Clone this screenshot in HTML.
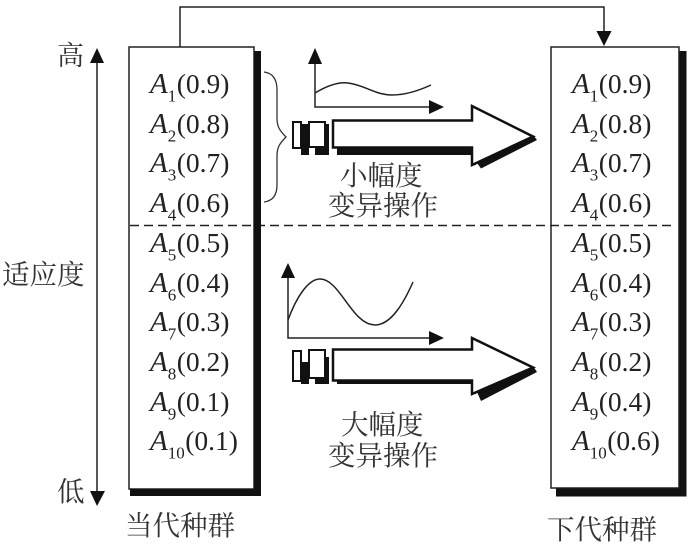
<!DOCTYPE html>
<html><head><meta charset="utf-8"><style>
html,body{margin:0;padding:0;background:#fff}
svg{display:block}
.t{font-family:"Liberation Serif",serif;font-size:27.5px;fill:#222}
.t .i{font-style:italic;font-size:29px}
.t .s{font-size:17px}
.c{font-family:"Liberation Serif","Noto Serif CJK SC",serif;font-size:27.5px;fill:#333}
</style></head><body>
<svg width="700" height="549" viewBox="0 0 700 549" xmlns="http://www.w3.org/2000/svg">
<rect width="700" height="549" fill="#fff"/>
<!-- boxes -->
<rect x="129" y="47" width="125" height="442" fill="#fff" stroke="#222" stroke-width="1.5"/>
<rect x="551" y="47" width="128" height="441" fill="#fff" stroke="#222" stroke-width="1.5"/>
<!-- dashed -->
<path d="M130 225.500H676" stroke="#222" stroke-width="1.500" stroke-dasharray="9 5" fill="none"/>
<!-- shadows -->
<rect x="254" y="51" width="7" height="445" fill="#111"/>
<rect x="130" y="489" width="131" height="7" fill="#111"/>
<rect x="679.500" y="51" width="7" height="445.500" fill="#111"/>
<rect x="556" y="488.500" width="130.500" height="8" fill="#111"/>
<!-- top connector -->
<path d="M180 47V7H604V34" fill="none" stroke="#222" stroke-width="1.5"/>
<path d="M596.500 31H611.500L604 46Z" fill="#111"/>
<!-- fitness axis -->
<path d="M97 60V493" stroke="#222" stroke-width="1.5"/>
<path d="M90 63L97 48L104 63Z" fill="#111"/>
<path d="M90 491H105L97 506Z" fill="#111"/>
<!-- brace -->
<path d="M264 72C272 73 277 78 277 90V118C277 126 279 130 286 137C279 144 277 148 277 156V185C277 196 272 201 264 202" fill="none" stroke="#333" stroke-width="1.3"/>
<!-- upper chart -->
<path d="M315 60V107H436" fill="none" stroke="#222" stroke-width="1.5"/>
<path d="M308 64L315 48L322 64Z" fill="#111"/>
<path d="M429 100L444 107L429 114Z" fill="#111"/>
<path d="M315 93C330 84 340 82 348 83C365 85 375 95 392 95C405 95 418 91 431 85" fill="none" stroke="#222" stroke-width="1.5"/>
<!-- lower chart -->
<path d="M288 278V338H430" fill="none" stroke="#222" stroke-width="1.5"/>
<path d="M281 278L288 263L295 278Z" fill="#111"/>
<path d="M429 331L444 338L429 345Z" fill="#111"/>
<path d="M288 320C296 298 308 279 320 279C340 279 352 325 375 325C392 325 405 300 413 282" fill="none" stroke="#222" stroke-width="1.5"/>
<!-- upper arrow -->
<path d="M337 147H476V155H337Z" fill="#111"/>
<path d="M472 147H476V165H472Z" fill="#111"/>
<path d="M477 163L481 168.500L537 140L533 135Z" fill="#111"/>
<path d="M333 120.500H472V106L533 136.500L472 165V147.500H333Z" fill="#fff" stroke="#111" stroke-width="2.500"/>
<path d="M301 124H309V155H301Z" fill="#111"/>
<path d="M315 147H329V155H315Z" fill="#111"/>
<path d="M325 124H329V155H325Z" fill="#111"/>
<path d="M293 122H301V148H293Z" fill="#fff" stroke="#111" stroke-width="2"/>
<path d="M309 122H325V147H309Z" fill="#fff" stroke="#111" stroke-width="2"/>
<!-- lower arrow -->
<path d="M337 380H476V384H337Z" fill="#111"/>
<path d="M472 380H476V394H472Z" fill="#111"/>
<path d="M477 392L481 401L537 372L533 366Z" fill="#111"/>
<path d="M333 349.500H472V338L533 367.500L472 394V380.500H333Z" fill="#fff" stroke="#111" stroke-width="2.500"/>
<path d="M301 362H309V384H301Z" fill="#111"/>
<path d="M315 378H329V384H315Z" fill="#111"/>
<path d="M325 357H329V384H325Z" fill="#111"/>
<path d="M293 351H301V381H293Z" fill="#fff" stroke="#111" stroke-width="2"/>
<path d="M309 350H325V378H309Z" fill="#fff" stroke="#111" stroke-width="2"/>
<!-- labels -->
<g class="t">
<text x="150" y="93"><tspan class="i">A</tspan><tspan class="s" dy="8.500">1</tspan><tspan dy="-8.500" dx="0.500">(0.9)</tspan></text>
<text x="150" y="133"><tspan class="i">A</tspan><tspan class="s" dy="8.500">2</tspan><tspan dy="-8.500" dx="0.500">(0.8)</tspan></text>
<text x="150" y="172"><tspan class="i">A</tspan><tspan class="s" dy="8.500">3</tspan><tspan dy="-8.500" dx="0.500">(0.7)</tspan></text>
<text x="150" y="212"><tspan class="i">A</tspan><tspan class="s" dy="8.500">4</tspan><tspan dy="-8.500" dx="0.500">(0.6)</tspan></text>
<text x="150" y="252"><tspan class="i">A</tspan><tspan class="s" dy="8.500">5</tspan><tspan dy="-8.500" dx="0.500">(0.5)</tspan></text>
<text x="150" y="292"><tspan class="i">A</tspan><tspan class="s" dy="8.500">6</tspan><tspan dy="-8.500" dx="0.500">(0.4)</tspan></text>
<text x="150" y="331"><tspan class="i">A</tspan><tspan class="s" dy="8.500">7</tspan><tspan dy="-8.500" dx="0.500">(0.3)</tspan></text>
<text x="150" y="371"><tspan class="i">A</tspan><tspan class="s" dy="8.500">8</tspan><tspan dy="-8.500" dx="0.500">(0.2)</tspan></text>
<text x="150" y="411"><tspan class="i">A</tspan><tspan class="s" dy="8.500">9</tspan><tspan dy="-8.500" dx="0.500">(0.1)</tspan></text>
<text x="150" y="450"><tspan class="i">A</tspan><tspan class="s" dy="8.500">10</tspan><tspan dy="-8.500" dx="0.500">(0.1)</tspan></text>
<text x="572" y="93"><tspan class="i">A</tspan><tspan class="s" dy="8.500">1</tspan><tspan dy="-8.500" dx="0.500">(0.9)</tspan></text>
<text x="572" y="133"><tspan class="i">A</tspan><tspan class="s" dy="8.500">2</tspan><tspan dy="-8.500" dx="0.500">(0.8)</tspan></text>
<text x="572" y="172"><tspan class="i">A</tspan><tspan class="s" dy="8.500">3</tspan><tspan dy="-8.500" dx="0.500">(0.7)</tspan></text>
<text x="572" y="212"><tspan class="i">A</tspan><tspan class="s" dy="8.500">4</tspan><tspan dy="-8.500" dx="0.500">(0.6)</tspan></text>
<text x="572" y="252"><tspan class="i">A</tspan><tspan class="s" dy="8.500">5</tspan><tspan dy="-8.500" dx="0.500">(0.5)</tspan></text>
<text x="572" y="292"><tspan class="i">A</tspan><tspan class="s" dy="8.500">6</tspan><tspan dy="-8.500" dx="0.500">(0.4)</tspan></text>
<text x="572" y="331"><tspan class="i">A</tspan><tspan class="s" dy="8.500">7</tspan><tspan dy="-8.500" dx="0.500">(0.3)</tspan></text>
<text x="572" y="371"><tspan class="i">A</tspan><tspan class="s" dy="8.500">8</tspan><tspan dy="-8.500" dx="0.500">(0.2)</tspan></text>
<text x="572" y="411"><tspan class="i">A</tspan><tspan class="s" dy="8.500">9</tspan><tspan dy="-8.500" dx="0.500">(0.4)</tspan></text>
<text x="572" y="450"><tspan class="i">A</tspan><tspan class="s" dy="8.500">10</tspan><tspan dy="-8.500" dx="0.500">(0.6)</tspan></text>
</g>
<g class="c">
<text x="57" y="65" font-size="27">高</text>
<text x="57" y="501">低</text>
<text x="2" y="284">适应度</text>
<text x="340" y="185">小幅度</text>
<text x="328" y="215">变异操作</text>
<text x="341" y="434">大幅度</text>
<text x="328" y="465">变异操作</text>
<text x="125" y="535">当代种群</text>
<text x="547" y="539">下代种群</text>
</g>
</svg>
</body></html>
